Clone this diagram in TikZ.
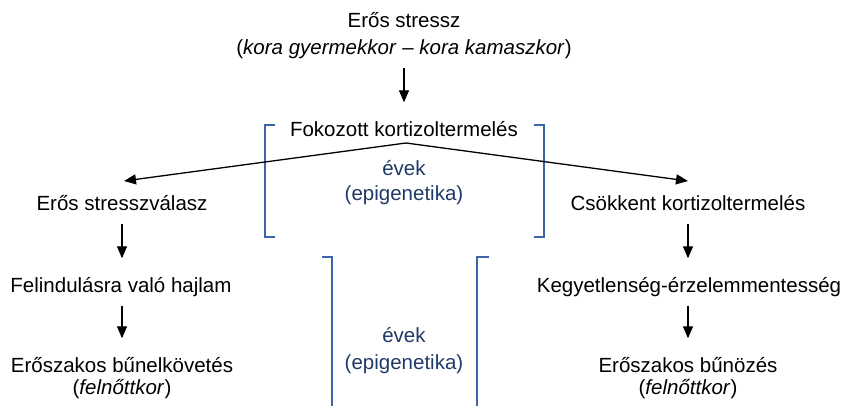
\documentclass[tikz,border=0pt]{standalone}
\usepackage{fontspec}
\setmainfont{Liberation Sans}
\usetikzlibrary{arrows.meta}
\definecolor{brk}{HTML}{3A66A8}
\definecolor{evk}{HTML}{1F3A66}
\begin{document}
\begin{tikzpicture}[x=1pt,y=-1pt,
  lbl/.style={inner sep=0pt, font=\fontsize{20.5}{24}\selectfont, text height=15pt, text depth=0pt},
  blu/.style={lbl, text=evk},
  arr/.style={draw=black, line width=1.3pt, -{Triangle[length=12pt,width=10pt]}},
  varr/.style={arr, shorten <=13pt, shorten >=19pt},
  brack/.style={draw=brk, line width=1.5pt}]
\useasboundingbox (0,0) rectangle (847,406);
% brackets
\draw[brack] (275,125) -- (265,125) -- (265,237) -- (275,237);
\draw[brack] (534,125) -- (544,125) -- (544,237) -- (534,237);
\draw[brack] (322,257) -- (332,257) -- (332,406);
\draw[brack] (489,257) -- (477,257) -- (477,406);
% texts
\node[lbl] (top1) at (404,20) {Erős stressz};
\node[lbl] (top2) at (404,47) {(\textit{kora gyermekkor} – \textit{kora kamaszkor})};
\node[lbl] (fok) at (404,129) {Fokozott kortizoltermelés};
\node[blu] (ev1) at (404,168) {évek};
\node[blu] (ep1) at (404,193) {(epigenetika)};
\node[blu] (ev2) at (404,335) {évek};
\node[blu] (ep2) at (404,362) {(epigenetika)};
\node[lbl] (esv) at (122,203) {Erős stresszválasz};
\node[lbl] (fel) at (121,285) {Felindulásra való hajlam};
\node[lbl] (ebk) at (122,365) {Erőszakos bűnelkövetés};
\node[lbl] (fk1) at (122,387) {(\textit{felnőttkor})};
\node[lbl] (csk) at (688,203) {Csökkent kortizoltermelés};
\node[lbl] (keg) at (689,285) {Kegyetlenség-érzelemmentesség};
\node[lbl] (ebz) at (688,365) {Erőszakos bűnözés};
\node[lbl] (fk2) at (688,387) {(\textit{felnőttkor})};
% connectors
\coordinate (apex) at (406,143);
\coordinate (ltip) at (124,181);
\coordinate (rtip) at (688,181);
\draw[varr] (top2) -- (fok);
\draw[arr] (apex) -- (ltip);
\draw[arr] (apex) -- (rtip);
\draw[varr] (esv.south) -- (esv.south |- fel.north);
\draw[varr] (fel.south -| esv.south) -- (esv.south |- ebk.north);
\draw[varr] (csk.south) -- (csk.south |- keg.north);
\draw[varr] (keg.south -| csk.south) -- (csk.south |- ebz.north);
\end{tikzpicture}
\end{document}
